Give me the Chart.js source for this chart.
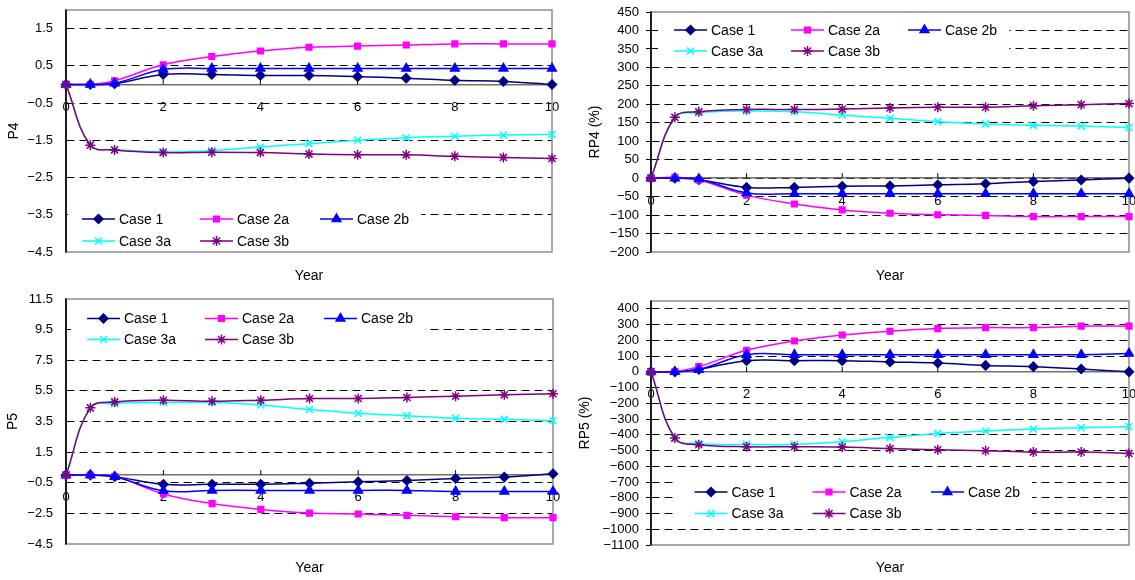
<!DOCTYPE html>
<html>
<head>
<meta charset="utf-8">
<script src="https://cdn.jsdelivr.net/npm/chart.js@4.4.0/dist/chart.umd.min.js"></script>
<style>
  html, body { margin: 0; padding: 0; background: #fff; overflow: hidden; width: 1135px; height: 580px; }
  .panel { position: absolute; }
</style>
</head>
<body>
<div class="panel" style="left:0;top:0"><canvas id="p4" width="567" height="290"></canvas></div>
<div class="panel" style="left:570px;top:0"><canvas id="rp4" width="580" height="290"></canvas></div>
<div class="panel" style="left:0;top:290px"><canvas id="p5" width="567" height="290"></canvas></div>
<div class="panel" style="left:570px;top:290px"><canvas id="rp5" width="580" height="290"></canvas></div>
<script>
// x values (years) shared by every panel
const years = [0, 0.5, 1, 2, 3, 4, 5, 6, 7, 8, 9, 10];
const caseNames = ['Case 1', 'Case 2a', 'Case 2b', 'Case 3a', 'Case 3b'];

// P4
const p4Case1  = [0, 0, 0.02, 0.27, 0.27, 0.24, 0.24, 0.21, 0.17, 0.11, 0.08, 0];
const p4Case2a = [0, 0, 0.1, 0.53, 0.75, 0.9, 1.0, 1.03, 1.06, 1.09, 1.09, 1.09];
const p4Case2b = [0, 0, 0.03, 0.4, 0.43, 0.43, 0.43, 0.43, 0.43, 0.43, 0.43, 0.43];
const p4Case3a = [0, -1.63, -1.75, -1.81, -1.78, -1.68, -1.59, -1.5, -1.43, -1.39, -1.36, -1.34];
const p4Case3b = [0, -1.63, -1.76, -1.83, -1.82, -1.83, -1.87, -1.89, -1.89, -1.93, -1.96, -1.99];
const p4Ticks  = [-4.5, -3.5, -2.5, -1.5, -0.5, 0.5, 1.5];

// RP4 (%)
const rp4Case1  = [0, 0, -4, -25, -25, -22, -21, -18, -15, -9, -5, 0];
const rp4Case2a = [0, 2, -5, -46, -70, -86, -95, -99, -101, -104, -104, -104];
const rp4Case2b = [0, 0, -2, -40, -42, -42, -42, -42, -42, -42, -42, -42];
const rp4Case3a = [0, 164, 177, 182, 180, 171, 162, 153, 147, 143, 141, 137];
const rp4Case3b = [0, 165, 180, 186, 186, 187, 190, 192, 192, 196, 199, 202];
const rp4Ticks  = [-200, -150, -100, -50, 0, 50, 100, 150, 200, 250, 300, 350, 400, 450];

// P5
const p5Case1  = [0, 0, -0.1, -0.6, -0.6, -0.6, -0.53, -0.44, -0.35, -0.22, -0.13, 0.09];
const p5Case2a = [0, 0, -0.1, -1.23, -1.86, -2.24, -2.48, -2.54, -2.63, -2.72, -2.78, -2.78];
const p5Case2b = [0, 0, -0.1, -1.03, -1.0, -1.0, -1.0, -1.0, -1.0, -1.07, -1.07, -1.07];
const p5Case3a = [0, 4.39, 4.67, 4.74, 4.74, 4.58, 4.28, 4.04, 3.88, 3.71, 3.64, 3.55];
const p5Case3b = [0, 4.39, 4.78, 4.89, 4.82, 4.89, 5.0, 5.0, 5.07, 5.15, 5.24, 5.31];
const p5Ticks  = [-4.5, -2.5, -0.5, 1.5, 3.5, 5.5, 7.5, 9.5, 11.5];

// RP5 (%)
const rp5Case1  = [0, 0, 16, 71, 71, 71, 63, 56, 41, 33, 18, 0];
const rp5Case2a = [0, 2, 33, 137, 196, 234, 258, 275, 281, 281, 290, 290];
const rp5Case2b = [0, 0, 14, 109, 109, 109, 109, 109, 109, 109, 109, 116];
const rp5Case3a = [0, -421, -455, -461, -461, -444, -416, -391, -376, -363, -355, -348];
const rp5Case3b = [0, -421, -463, -476, -476, -478, -487, -495, -501, -510, -510, -518];
const rp5Ticks  = [-1100, -1000, -900, -800, -700, -600, -500, -400, -300, -200, -100, 0, 100, 200, 300, 400];

const FONT = '"Liberation Sans", Arial, sans-serif';
const seriesStyle = [
  { color: '#000080', pointStyle: 'rectRot', radius: 4.5 },
  { color: '#ff00ff', pointStyle: 'rect', radius: 4 },
  { color: '#0000ff', pointStyle: 'triangle', radius: 5 },
  { color: '#00ffff', pointStyle: 'crossRot', radius: 5 },
  { color: '#800080', pointStyle: 'star', radius: 5 }
];

function fmt(v) {
  return v < 0 ? '\u2212' + Math.abs(v) : String(v);
}

// plot-area frame, black value axis and small tick marks on the zero line
const frame = {
  id: 'frame',
  beforeDatasetsDraw(chart) {
    const { ctx, chartArea: a, scales } = chart;
    ctx.save();
    ctx.strokeStyle = '#8c8c8c';
    ctx.lineWidth = 1.5;
    ctx.strokeRect(a.left, a.top, a.right - a.left, a.bottom - a.top);
    ctx.strokeStyle = '#000';
    ctx.beginPath();
    ctx.moveTo(a.left, a.top);
    ctx.lineTo(a.left, a.bottom);
    ctx.stroke();
    const y0 = scales.y.getPixelForValue(0);
    ctx.lineWidth = 1;
    scales.x.ticks.forEach(t => {
      const px = scales.x.getPixelForValue(t.value);
      ctx.beginPath();
      ctx.moveTo(px, y0 - 5);
      ctx.lineTo(px, y0);
      ctx.stroke();
    });
    ctx.restore();
  }
};

// legend drawn inside the plot area on a white box
const insideLegend = {
  id: 'insideLegend',
  afterDraw(chart, args, opts) {
    const { ctx, chartArea: a } = chart;
    const x0 = a.left + opts.x, y0 = a.top + opts.y;
    ctx.save();
    ctx.font = '14px ' + FONT;
    const lastText = x0 + opts.cols[2] + 37 + ctx.measureText('Case 2b').width;
    const bl = Math.max(x0 - opts.padL, a.left + 2);
    const bt = Math.max(y0 - 12, a.top + 2);
    const bb = Math.min(y0 + opts.row + 12, a.bottom - 2);
    ctx.fillStyle = '#fff';
    ctx.fillRect(bl, bt, lastText + 12 - bl, bb - bt);
    chart.data.datasets.forEach((ds, i) => {
      const sx = x0 + opts.cols[i % 3];
      const sy = y0 + Math.floor(i / 3) * opts.row;
      ctx.strokeStyle = ds.borderColor;
      ctx.fillStyle = ds.borderColor;
      ctx.lineWidth = 1.5;
      ctx.beginPath();
      ctx.moveTo(sx, sy);
      ctx.lineTo(sx + 33, sy);
      ctx.stroke();
      Chart.helpers.drawPoint(ctx, { pointStyle: ds.pointStyle, radius: ds.pointRadius, borderWidth: 1.5, rotation: 0 }, sx + 16.5, sy);
      ctx.fillStyle = '#000';
      ctx.textBaseline = 'middle';
      ctx.fillText(ds.label, sx + 37, sy + 1);
    });
    ctx.restore();
  }
};

function makeChart(id, series, cfg) {
  const datasets = series.map((vals, i) => ({
    label: caseNames[i],
    data: vals.map((v, k) => ({ x: years[k], y: v })),
    borderColor: seriesStyle[i].color,
    backgroundColor: seriesStyle[i].color,
    pointStyle: seriesStyle[i].pointStyle,
    pointRadius: seriesStyle[i].radius,
    pointBorderWidth: 1.5,
    borderWidth: 1.5,
    tension: 0.4,
    clip: false,
    order: 5 - i
  }));
  const min = cfg.ticks[0];
  return new Chart(document.getElementById(id), {
    type: 'line',
    data: { datasets },
    plugins: [frame, insideLegend],
    options: {
      responsive: false,
      animation: false,
      devicePixelRatio: 1,
      layout: { padding: { left: 0, top: cfg.padTop, right: cfg.padRight, bottom: 0 } },
      plugins: {
        legend: { display: false },
        tooltip: { enabled: false },
        insideLegend: cfg.legend
      },
      scales: {
        x: {
          type: 'linear', min: 0, max: 10, position: { y: 0 },
          afterFit: s => { s.paddingLeft = 0; s.paddingRight = 0; },
          ticks: { stepSize: 2, color: '#000', font: { size: 13, family: FONT }, padding: 15, maxRotation: 0 },
          grid: { drawOnChartArea: false, drawTicks: false },
          border: { color: '#707070', width: 1.5 }
        },
        xYear: {
          type: 'linear', position: 'bottom', min: 0, max: 10,
          ticks: { display: false },
          grid: { display: false },
          border: { display: false },
          afterFit: s => { s.height = cfg.yearH; s.paddingLeft = 0; s.paddingRight = 0; },
          title: { display: true, text: 'Year', color: '#000', font: { size: 14, family: FONT }, padding: { top: 0, bottom: cfg.yearPad } }
        },
        y: {
          type: 'linear', min: min, max: cfg.max,
          afterBuildTicks: s => { s.ticks = cfg.ticks.map(v => ({ value: v })); },
          afterFit: s => { s.width = cfg.yWidth; s.paddingTop = 0; s.paddingBottom = 0; },
          ticks: { color: '#000', font: { size: 13, family: FONT }, padding: cfg.tickPad, autoSkip: false, callback: v => fmt(v) },
          grid: {
            color: c => (c.tick && (c.tick.value === min || c.tick.value === cfg.max)) ? 'rgba(0,0,0,0)' : '#000',
            lineWidth: 1,
            drawTicks: cfg.drawTicks,
            tickLength: 5,
            tickColor: '#000'
          },
          border: { color: '#000', width: 1.5, dash: [8, 5] },
          title: { display: true, text: cfg.title, color: '#000', font: { size: 14, family: FONT }, padding: { top: cfg.titlePad, bottom: 0 } }
        }
      }
    }
  });
}

makeChart('p4', [p4Case1, p4Case2a, p4Case2b, p4Case3a, p4Case3b], {
  ticks: p4Ticks, max: 2, title: 'P4', titlePad: 6,
  padTop: 10, padRight: 15, yWidth: 66, yearH: 38, yearPad: 5,
  tickPad: 13, drawTicks: false,
  legend: { x: 16, y: 209, row: 22, cols: [0, 118, 238], padL: 16 }
});

makeChart('rp4', [rp4Case1, rp4Case2a, rp4Case2b, rp4Case3a, rp4Case3b], {
  ticks: rp4Ticks, max: 450, title: 'RP4 (%)', titlePad: 17,
  padTop: 12, padRight: 21, yWidth: 81, yearH: 38, yearPad: 5,
  tickPad: 7, drawTicks: true,
  legend: { x: 23, y: 18, row: 21, cols: [0, 117, 234], padL: 16 }
});

makeChart('p5', [p5Case1, p5Case2a, p5Case2b, p5Case3a, p5Case3b], {
  ticks: p5Ticks, max: 11.5, title: 'P5', titlePad: 5,
  padTop: 9, padRight: 14, yWidth: 66, yearH: 36, yearPad: 3,
  tickPad: 13, drawTicks: false,
  legend: { x: 21, y: 19.5, row: 21, cols: [0, 118, 237], padL: 16 }
});

makeChart('rp5', [rp5Case1, rp5Case2a, rp5Case2b, rp5Case3a, rp5Case3b], {
  ticks: rp5Ticks, max: 450, title: 'RP5 (%)', titlePad: 7,
  padTop: 11, padRight: 21, yWidth: 81, yearH: 35, yearPad: 3,
  tickPad: 7, drawTicks: true,
  legend: { x: 43.5, y: 191, row: 21.6, cols: [0, 118, 236.5], padL: 20 }
});
</script>
</body>
</html>
